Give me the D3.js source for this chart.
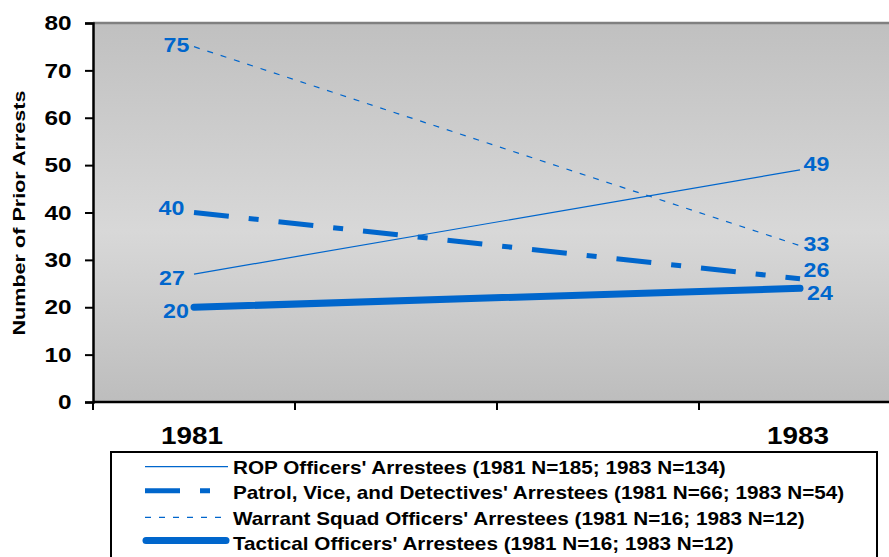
<!DOCTYPE html>
<html>
<head>
<meta charset="utf-8">
<script src="https://cdn.jsdelivr.net/npm/d3@7"></script>
<style>
  body { margin: 0; background: #fff; }
  svg { display: block; font-family: "Liberation Sans", Arial, sans-serif; }
</style>
</head>
<body>
<div id="chart"></div>
<script>
// categories on the x axis (the two middle slots are empty in the original)
var categories = ["1981", "", " ", "1983"];
var yTicks = [0, 10, 20, 30, 40, 50, 60, 70, 80];

var seriesNames = [
  "ROP Officers' Arrestees (1981 N=185; 1983 N=134)",
  "Patrol, Vice, and Detectives' Arrestees (1981 N=66; 1983 N=54)",
  "Warrant Squad Officers' Arrestees (1981 N=16; 1983 N=12)",
  "Tactical Officers' Arrestees (1981 N=16; 1983 N=12)"
];
var rop = [27, 49];
var patrol = [40, 26];
var warrant = [75, 33];
var tactical = [20, 24];
var years = ["1981", "1983"];

var svgWidth = 889;
var svgHeight = 557;
var margin = { top: 23, left: 93 };
var width = 808;
var height = 379;

var blue = "#0066cc";
var sx = 1.16; // the original's text is a bit wider than Arial

var svg = d3.select("#chart").append("svg")
  .attr("width", svgWidth)
  .attr("height", svgHeight);

var defs = svg.append("defs");
var grad = defs.append("linearGradient")
  .attr("id", "bg").attr("x1", 0).attr("y1", 0).attr("x2", 0).attr("y2", 1);
grad.append("stop").attr("offset", "0%").attr("stop-color", "#c0c0c0");
grad.append("stop").attr("offset", "55%").attr("stop-color", "#d8d8d8");
grad.append("stop").attr("offset", "100%").attr("stop-color", "#bdbdbd");

var chartGroup = svg.append("g")
  .attr("transform", `translate(${margin.left}, ${margin.top})`);

var xScale = d3.scaleBand().domain(categories).range([0, width]);
var yScale = d3.scaleLinear().domain([0, 80]).range([height, 0]);

chartGroup.append("rect")
  .attr("width", width).attr("height", height)
  .attr("fill", "url(#bg)");

chartGroup.append("line")
  .attr("x1", 0).attr("x2", width).attr("y1", 0).attr("y2", 0)
  .attr("stroke", "#808080").attr("stroke-width", 2.5);

// axes
var leftAxis = d3.axisLeft(yScale).tickValues(yTicks).tickSize(8).tickPadding(10.4);
var yAxisG = chartGroup.append("g").call(leftAxis);
yAxisG.select(".domain").attr("stroke", "#000").attr("stroke-width", 2.5);
yAxisG.selectAll(".tick line").attr("stroke-width", 2);
yAxisG.selectAll("text")
  .attr("font-size", "21px").attr("font-weight", "bold").attr("fill", "#000")
  .attr("font-family", "Liberation Sans, Arial, sans-serif")
  .attr("transform", `scale(${sx},1)`);

var tickPos = d3.range(categories.length + 1).map(function(i) { return i * xScale.step(); });
chartGroup.append("line")
  .attr("x1", 0).attr("x2", width).attr("y1", height).attr("y2", height)
  .attr("stroke", "#000").attr("stroke-width", 2.5);
chartGroup.selectAll(".xtick").data(tickPos).enter().append("line")
  .attr("x1", function(d) { return d; }).attr("x2", function(d) { return d; })
  .attr("y1", height).attr("y2", height + 8)
  .attr("stroke", "#000").attr("stroke-width", 2);
chartGroup.selectAll(".xlabel").data(years).enter().append("text")
  .attr("transform", function(d) {
    return `translate(${xScale(d) + xScale.bandwidth() / 2 - 2}, ${height + 42}) scale(${sx},1)`;
  })
  .attr("text-anchor", "middle")
  .attr("font-size", "24px").attr("font-weight", "bold")
  .text(function(d) { return d; });

svg.append("text")
  .attr("transform", "translate(25, 213) rotate(-90) scale(1.27,1)")
  .attr("text-anchor", "middle")
  .attr("font-size", "17px").attr("font-weight", "bold")
  .text("Number of Prior Arrests");

// series
var series = [
  { name: seriesNames[0], values: rop, width: 1.2, dash: null, cap: "butt" },
  { name: seriesNames[1], values: patrol, width: 5, dash: "35,20,10,20", cap: "butt" },
  { name: seriesNames[2], values: warrant, width: 1.2, dash: "6,8", cap: "butt" },
  { name: seriesNames[3], values: tactical, width: 7, dash: null, cap: "round" }
];

var line = d3.line()
  .x(function(d, i) { return xScale(years[i]) + xScale.bandwidth() / 2; })
  .y(function(d) { return yScale(d); });

series.forEach(function(s) {
  chartGroup.append("path")
    .datum(s.values)
    .attr("d", line)
    .attr("fill", "none")
    .attr("stroke", blue)
    .attr("stroke-width", s.width)
    .attr("stroke-dasharray", s.dash)
    .attr("stroke-linecap", s.cap);
});

// data labels: offsets of the label centre from the point
var labelOffsets = [
  { l: [-22, 3.5], r: [16.5, -6] },
  { l: [-22.5, -4.5], r: [16.5, -8.8] },
  { l: [-17.5, -1.2], r: [16.5, -1.7] },
  { l: [-18, 4], r: [20, 4.4] }
];
series.forEach(function(s, si) {
  s.values.forEach(function(v, i) {
    var off = i === 0 ? labelOffsets[si].l : labelOffsets[si].r;
    var cx = xScale(years[i]) + xScale.bandwidth() / 2 + off[0];
    var cy = yScale(v) + off[1] + 7;
    chartGroup.append("text")
      .attr("transform", `translate(${cx}, ${cy}) scale(${sx},1)`)
      .attr("text-anchor", "middle")
      .attr("font-size", "20px").attr("font-weight", "bold")
      .attr("fill", blue)
      .text(v);
  });
});

// legend
var legend = svg.append("g");
legend.append("rect")
  .attr("x", 111).attr("y", 452).attr("width", 766).attr("height", 130)
  .attr("fill", "#fff").attr("stroke", "#000").attr("stroke-width", 2);

var legendLines = [466.7, 490.7, 517.3, 540.5];
var legendBase = [474.3, 499.3, 525, 549.6];
series.forEach(function(s, i) {
  var x1 = s.cap === "round" ? 146 : 145;
  var x2 = s.cap === "round" ? 226 : 228;
  legend.append("line")
    .attr("x1", x1).attr("x2", x2)
    .attr("y1", legendLines[i]).attr("y2", legendLines[i])
    .attr("stroke", blue)
    .attr("stroke-width", s.width)
    .attr("stroke-dasharray", s.dash)
    .attr("stroke-linecap", s.cap);
  legend.append("text")
    .attr("transform", `translate(233, ${legendBase[i]}) scale(1.17,1)`)
    .attr("font-size", "17.7px").attr("font-weight", "bold")
    .text(s.name);
});
</script>
</body>
</html>
